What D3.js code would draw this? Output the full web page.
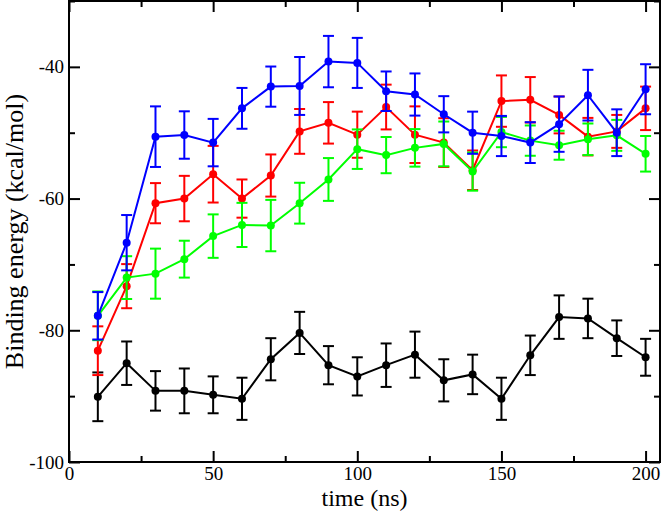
<!DOCTYPE html>
<html><head><meta charset="utf-8">
<script src="https://cdn.jsdelivr.net/npm/d3@7"></script>
<style>body{margin:0;background:#fff} svg{display:block}</style>
</head><body><svg id="c" width="661" height="511"></svg>
<script>
const times = [10,20,30,40,50,60,70,80,90,100,110,120,130,140,150,160,170,180,190,200];
const blackY   = [-90.1,-85.0,-89.2,-89.2,-89.8,-90.4,-84.4,-80.4,-85.3,-87.0,-85.3,-83.7,-87.6,-86.7,-90.4,-83.8,-78.0,-78.2,-81.2,-84.1];
const blackErr = [3.7,3.3,3.0,3.4,2.8,3.2,3.2,3.2,2.9,2.9,3.3,3.5,3.2,3.0,3.2,3.0,3.3,3.0,2.7,2.8];
const redY     = [-83.1,-73.3,-60.7,-60.0,-56.3,-60.0,-56.5,-49.8,-48.5,-50.3,-46.1,-50.3,-51.5,-55.7,-45.2,-45.0,-47.3,-50.6,-49.8,-46.3];
const redErr   = [3.7,3.35,3.05,3.45,4.3,2.9,3.2,3.4,3.15,3.5,3.4,4.3,3.7,3.0,3.9,3.45,2.8,2.85,2.5,3.3];
const greenY   = [-77.8,-72.0,-71.4,-69.2,-65.7,-64.0,-64.1,-60.7,-57.1,-52.5,-53.4,-52.3,-51.7,-55.9,-49.9,-51.2,-51.9,-51.0,-50.4,-53.2];
const greenErr = [3.7,3.25,3.8,2.8,3.3,3.35,3.9,3.1,3.25,3.0,2.75,2.85,3.4,2.9,2.3,2.3,2.2,2.4,2.35,2.7];
const blueY    = [-77.8,-66.7,-50.6,-50.35,-51.5,-46.3,-43.0,-42.9,-39.2,-39.4,-43.7,-44.2,-47.2,-50.0,-50.5,-51.5,-48.7,-44.3,-50.0,-43.4];
const blueErr  = [3.6,4.2,4.6,3.6,3.6,3.1,3.05,4.4,3.9,3.8,3.0,3.2,2.75,3.2,3.05,3.1,4.2,3.85,3.55,3.8];
const xMajor = [0,50,100,150,200];
const xMinor = [25,75,125,175];
const yMajor = [-100,-80,-60,-40];
const yMinor = [-90,-70,-50,-30];
const xTitle = "time (ns)";
const yTitle = "Binding energy (kcal/mol)";

const series = [
  {y: blackY, e: blackErr, color: "#000000"},
  {y: redY,   e: redErr,   color: "#ff0000"},
  {y: greenY, e: greenErr, color: "#00ff00"},
  {y: blueY,  e: blueErr,  color: "#0000ff"}
];

const L = 69, R = 660, T = 1, B = 462;
const font = "'Liberation Serif','Times New Roman',serif";
const svg = d3.select("#c");
const x = d3.scaleLinear().domain([0,205]).range([L,R]);
const y = d3.scaleLinear().domain([-100,-30]).range([B,T]);

function styleAxis(g){
  g.select(".domain").remove();
  g.selectAll("line").attr("stroke","#000").attr("stroke-width",2);
  g.selectAll("text").attr("font-family",font).attr("font-size",19).attr("fill","#000");
}
// bottom
svg.append("g").attr("transform",`translate(0,${B})`)
  .call(d3.axisBottom(x).tickValues(xMajor).tickSize(-11).tickPadding(4.5).tickFormat(d3.format("d"))).call(styleAxis);
svg.append("g").attr("transform",`translate(0,${B})`)
  .call(d3.axisBottom(x).tickValues(xMinor).tickSize(-6).tickFormat("")).call(styleAxis);
// top
svg.append("g").attr("transform",`translate(0,${T})`)
  .call(d3.axisTop(x).tickValues(xMajor).tickSize(-11).tickFormat("")).call(styleAxis);
svg.append("g").attr("transform",`translate(0,${T})`)
  .call(d3.axisTop(x).tickValues(xMinor).tickSize(-6).tickFormat("")).call(styleAxis);
// left
svg.append("g").attr("transform",`translate(${L},0)`)
  .call(d3.axisLeft(y).tickValues(yMajor).tickSize(-11).tickPadding(5).tickFormat(d=>"-"+Math.abs(d))).call(styleAxis);
svg.append("g").attr("transform",`translate(${L},0)`)
  .call(d3.axisLeft(y).tickValues(yMinor).tickSize(-6).tickFormat("")).call(styleAxis);
// right
svg.append("g").attr("transform",`translate(${R},0)`)
  .call(d3.axisRight(y).tickValues(yMajor).tickSize(-11).tickFormat("")).call(styleAxis);
svg.append("g").attr("transform",`translate(${R},0)`)
  .call(d3.axisRight(y).tickValues(yMinor).tickSize(-6).tickFormat("")).call(styleAxis);

// frame
svg.append("rect").attr("x",L).attr("y",T).attr("width",R-L).attr("height",B-T)
  .attr("fill","none").attr("stroke","#000").attr("stroke-width",2);

const line = d3.line().x((d,i)=>x(times[i])).y(d=>y(d));
series.forEach(s=>{
  const g = svg.append("g");
  const cap = 5.5;
  times.forEach((t,i)=>{
    const cx = x(t), y1 = y(s.y[i]+s.e[i]), y2 = y(s.y[i]-s.e[i]);
    g.append("line").attr("x1",cx).attr("x2",cx).attr("y1",y1).attr("y2",y2).attr("stroke",s.color).attr("stroke-width",2);
    g.append("line").attr("x1",cx-cap).attr("x2",cx+cap).attr("y1",y1).attr("y2",y1).attr("stroke",s.color).attr("stroke-width",2);
    g.append("line").attr("x1",cx-cap).attr("x2",cx+cap).attr("y1",y2).attr("y2",y2).attr("stroke",s.color).attr("stroke-width",2);
  });
  g.append("path").datum(s.y).attr("d",line).attr("fill","none").attr("stroke",s.color).attr("stroke-width",2);
  g.selectAll("circle").data(s.y).enter().append("circle")
    .attr("cx",(d,i)=>x(times[i])).attr("cy",d=>y(d)).attr("r",4).attr("fill",s.color);
});

svg.append("text").attr("x",(L+R)/2).attr("y",506).attr("text-anchor","middle")
  .attr("font-family",font).attr("font-size",24).text(xTitle);
svg.append("text").attr("transform",`translate(23,${(T+B)/2}) rotate(-90)`).attr("text-anchor","middle")
  .attr("font-family",font).attr("font-size",26).text(yTitle);
</script></body></html>
